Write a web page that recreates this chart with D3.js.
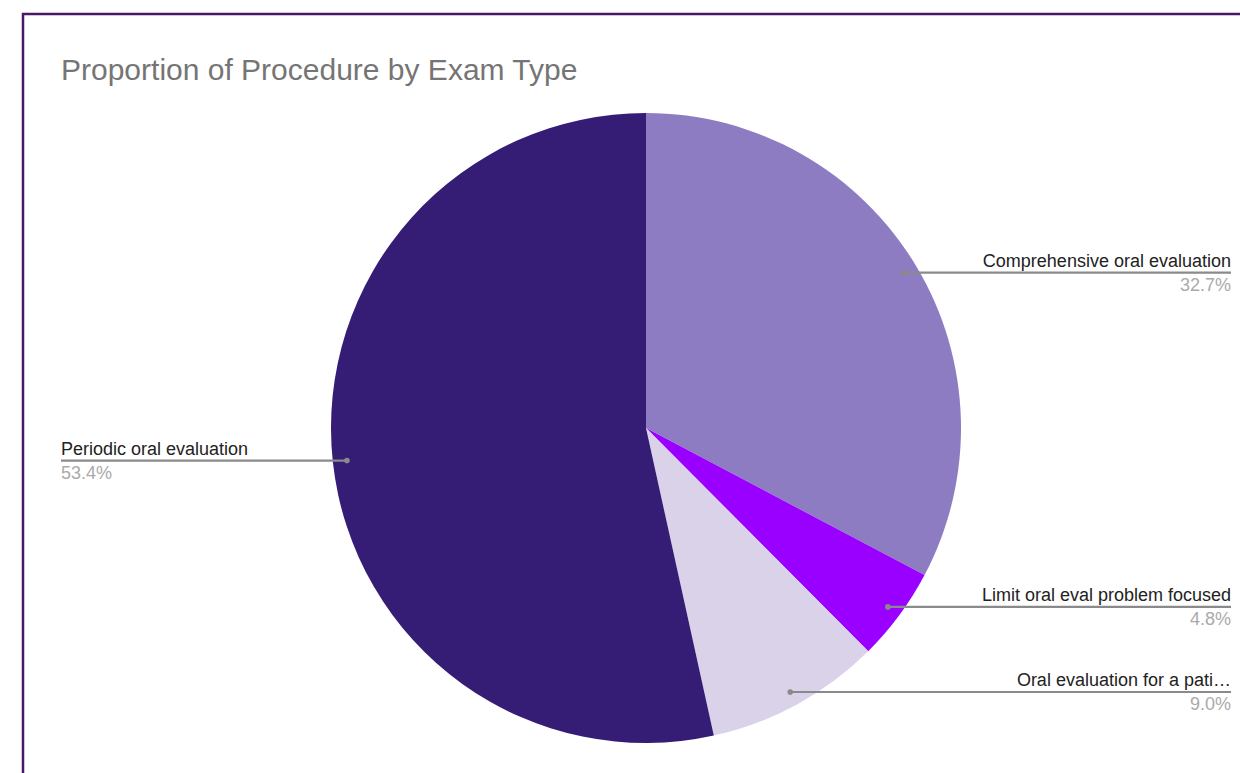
<!DOCTYPE html>
<html>
<head>
<meta charset="utf-8">
<script src="https://cdn.jsdelivr.net/npm/d3@7/dist/d3.min.js"></script>
<style>
  body { margin: 0; background: #fff; }
  svg { display: block; font-family: "Liberation Sans", Arial, sans-serif; }
</style>
</head>
<body>
<svg id="chart" width="1240" height="773"></svg>
<script>
const categories = ['Comprehensive oral evaluation', 'Limit oral eval problem focused', 'Oral evaluation for a pati\u2026', 'Periodic oral evaluation'];
const shares = [32.7, 4.8, 9.0, 53.4];
const colors = ['#8e7cc3', '#9900ff', '#d9d2e9', '#351c75'];

const width = 1240, height = 773;
const cx = 646, cy = 428, radius = 315;

const svg = d3.select('#chart');

// frame, cut off at right and bottom
svg.append('path')
  .attr('d', `M23,${height}V14H${width}`)
  .attr('fill', 'none')
  .attr('stroke', '#4a1668')
  .attr('stroke-width', 2.5);

svg.append('text')
  .attr('x', 61)
  .attr('y', 80)
  .attr('font-size', 30)
  .attr('fill', '#757575')
  .text('Proportion of Procedure by Exam Type');

const data = categories.map((name, i) => ({ name, value: shares[i], color: colors[i] }));
const pie = d3.pie().value(d => d.value).sort(null);
const arcs = pie(data);
const arc = d3.arc().innerRadius(0).outerRadius(radius);
const dotArc = d3.arc().innerRadius(radius * 0.955).outerRadius(radius * 0.955);

const g = svg.append('g').attr('transform', `translate(${cx},${cy})`);

g.selectAll('path.slice')
  .data(arcs)
  .join('path')
  .attr('class', 'slice')
  .attr('d', arc)
  .attr('fill', d => d.data.color);

// label leaders
const labelRight = 1231, labelLeft = 61;
const labels = svg.append('g');

arcs.forEach(d => {
  const [px, py] = dotArc.centroid(d);
  const x = cx + px, y = cy + py;
  const right = x > cx;
  const endX = right ? labelRight : labelLeft;
  const lg = labels.append('g');
  lg.append('line')
    .attr('x1', x).attr('y1', y)
    .attr('x2', endX).attr('y2', y)
    .attr('stroke', '#8a8a8a')
    .attr('stroke-width', 2.2);
  lg.append('circle')
    .attr('cx', x).attr('cy', y).attr('r', 2.8)
    .attr('fill', '#8a8a8a');
  lg.append('text')
    .attr('x', endX).attr('y', y - 6)
    .attr('text-anchor', right ? 'end' : 'start')
    .attr('font-size', 18)
    .attr('fill', '#222')
    .text(d.data.name);
  lg.append('text')
    .attr('x', endX).attr('y', y + 18)
    .attr('text-anchor', right ? 'end' : 'start')
    .attr('font-size', 18)
    .attr('fill', '#aaa')
    .text(d.data.value.toFixed(1) + '%');
});
</script>
</body>
</html>
